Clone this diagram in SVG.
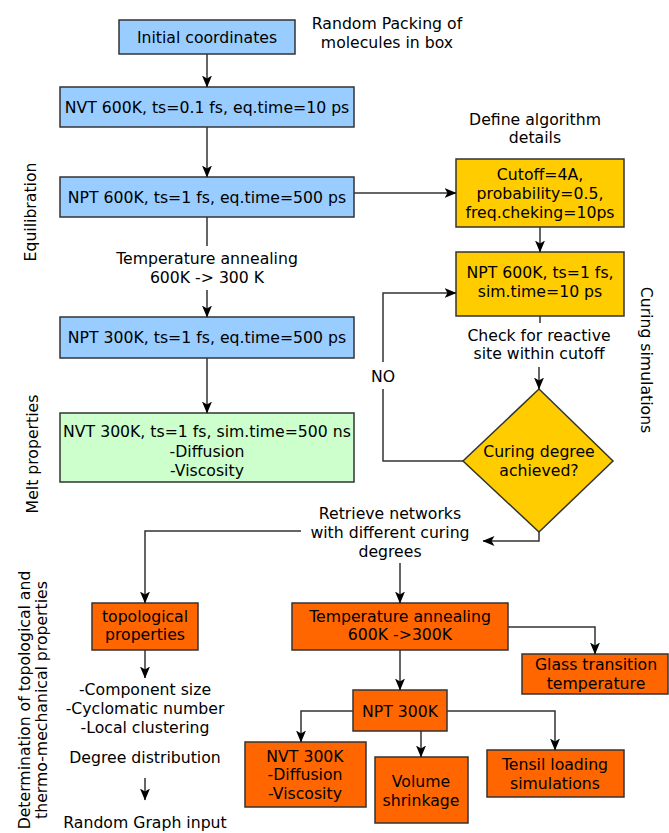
<svg xmlns="http://www.w3.org/2000/svg" width="669" height="833" viewBox="0 0 669 833">
<style>
text{font-family:"DejaVu Sans","Liberation Sans",sans-serif;font-size:15.7px;fill:#000;text-anchor:middle}
.box{stroke:#333;stroke-width:1.5}
.blue{fill:#99ccff}.green{fill:#ccffcc}.gold{fill:#ffcc00}.orange{fill:#ff6600}
.c path{fill:none;stroke:#333;stroke-width:1.5}
.a{marker-end:url(#ah)}
</style>
<defs>
<marker id="ah" viewBox="0 0 12 10" refX="11.5" refY="5" markerWidth="12" markerHeight="10" markerUnits="userSpaceOnUse" orient="auto">
<path d="M0,0 L12,5 L0,10 L3,5 Z" fill="#000"/>
</marker>
</defs>
<rect width="669" height="833" fill="#fff"/>
<g id="labels">
<text x="387" y="29">Random Packing of</text>
<text x="387" y="48">molecules in box</text>
<text x="207" y="264">Temperature annealing</text>
<text x="207" y="283">600K -&gt; 300 K</text>
<text x="535" y="125">Define algorithm</text>
<text x="535" y="143">details</text>
<text x="539" y="341">Check for reactive</text>
<text x="539" y="359">site within cutoff</text>
<text x="383" y="382">NO</text>
<text x="390" y="519">Retrieve networks</text>
<text x="390" y="538">with different curing</text>
<text x="390" y="557">degrees</text>
<text x="145" y="695">-Component size</text>
<text x="145" y="714">-Cyclomatic number</text>
<text x="145" y="733">-Local clustering</text>
<text x="145" y="763">Degree distribution</text>
<text x="145" y="828">Random Graph input</text>
<text transform="translate(36,212) rotate(-90)">Equilibration</text>
<text transform="translate(38,454) rotate(-90)">Melt properties</text>
<text transform="translate(30,700) rotate(-90)">Determination of topological and</text>
<text transform="translate(47,700) rotate(-90)">thermo-mechanical properties</text>
<text transform="translate(641,360) rotate(90)">Curing simulations</text>
</g>
<g id="initial"><rect class="box blue" x="119" y="20" width="176" height="34"/><text x="207" y="43">Initial coordinates</text></g>
<g id="nvt600"><rect class="box blue" x="60" y="87" width="294" height="40"/><text x="207" y="113">NVT 600K, ts=0.1 fs, eq.time=10 ps</text></g>
<g id="npt600"><rect class="box blue" x="60" y="177" width="294" height="40"/><text x="207" y="203">NPT 600K, ts=1 fs, eq.time=500 ps</text></g>
<g id="npt300"><rect class="box blue" x="60" y="317" width="294" height="41"/><text x="207" y="343">NPT 300K, ts=1 fs, eq.time=500 ps</text></g>
<g id="nvt300melt"><rect class="box green" x="60" y="413" width="294" height="69"/><text x="207" y="437">NVT 300K, ts=1 fs, sim.time=500 ns</text><text x="207" y="457">-Diffusion</text><text x="207" y="476">-Viscosity</text></g>
<g id="cutoff"><rect class="box gold" x="456" y="159" width="168" height="68"/><text x="540" y="180">Cutoff=4A,</text><text x="540" y="199">probability=0.5,</text><text x="540" y="218">freq.cheking=10ps</text></g>
<g id="npt600cure"><rect class="box gold" x="456" y="252" width="168" height="64"/><text x="540" y="278">NPT 600K, ts=1 fs,</text><text x="540" y="297">sim.time=10 ps</text></g>
<g id="decision"><path class="box gold" d="M539,389 L613,461 L539,532 L463,461 Z"/><text x="539" y="457">Curing degree</text><text x="539" y="476">achieved?</text></g>
<g id="topological"><rect class="box orange" x="92" y="603" width="106" height="47"/><text x="145" y="622">topological</text><text x="145" y="640">properties</text></g>
<g id="annealing"><rect class="box orange" x="292" y="603" width="216" height="47"/><text x="400" y="622">Temperature annealing</text><text x="400" y="640">600K -&gt;300K</text></g>
<g id="glass"><rect class="box orange" x="522" y="654" width="146" height="40"/><text x="596" y="670">Glass transition</text><text x="596" y="689">temperature</text></g>
<g id="npt300k"><rect class="box orange" x="353" y="690" width="94" height="41"/><text x="400" y="717">NPT 300K</text></g>
<g id="nvt300k"><rect class="box orange" x="245" y="742" width="121" height="65"/><text x="305" y="762">NVT 300K</text><text x="305" y="780">-Diffusion</text><text x="305" y="799">-Viscosity</text></g>
<g id="volume"><rect class="box orange" x="375" y="757" width="93" height="66"/><text x="421" y="787">Volume</text><text x="421" y="806">shrinkage</text></g>
<g id="tensil"><rect class="box orange" x="487" y="750" width="137" height="47"/><text x="555" y="770">Tensil loading</text><text x="555" y="789">simulations</text></g>
<g id="connectors" class="c">
<path class="a" d="M207,54 V87"/>
<path class="a" d="M207,127 V177"/>
<path d="M207,217 V246"/>
<path class="a" d="M207,290 V317"/>
<path class="a" d="M207,358 V413"/>
<path class="a" d="M354,193 H456"/>
<path class="a" d="M540,227 V252"/>
<path d="M540,316 V323"/>
<path class="a" d="M539,367 V389"/>
<path d="M463,461 H383 V389"/>
<path class="a" d="M383,362 V293 H456"/>
<path class="a" d="M539,532 V541 H483"/>
<path class="a" d="M301,531 H145 V603"/>
<path class="a" d="M400,563 V603"/>
<path class="a" d="M508,627 H595 V654"/>
<path class="a" d="M145,650 V678"/>
<path class="a" d="M145,778 V800"/>
<path class="a" d="M400,650 V690"/>
<path class="a" d="M353,711 H301 V742"/>
<path class="a" d="M421,731 V757"/>
<path class="a" d="M447,711 H555 V750"/>
</g>
</svg>
